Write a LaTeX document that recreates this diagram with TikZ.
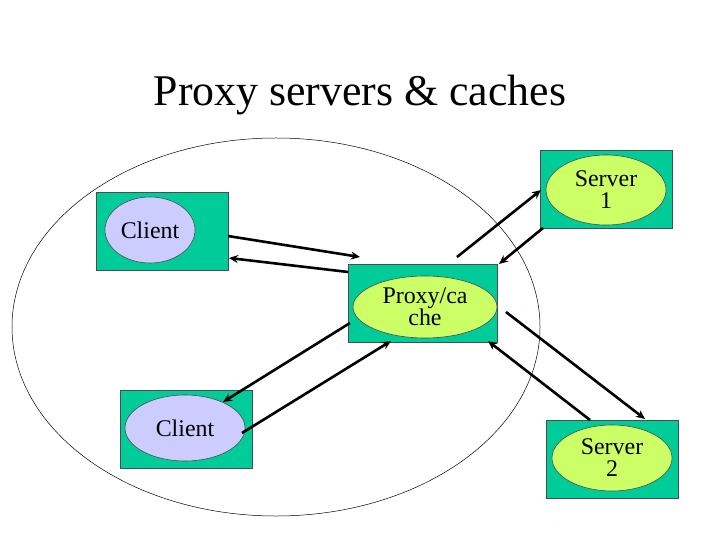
\documentclass[tikz,border=0pt]{standalone}
\usepackage{fontspec}
\setmainfont{Liberation Serif}
\usetikzlibrary{arrows.meta,shapes.geometric}
\definecolor{boxg}{HTML}{00CC99}
\definecolor{cli}{HTML}{CCCCFF}
\definecolor{srv}{HTML}{CCFF66}
\begin{document}
\begin{tikzpicture}[x=1bp,y=-1bp,
  box/.style={draw=black!70,fill=boxg,line width=0.8bp},
  ell/.style={ellipse,draw=black!70,line width=0.6bp,inner sep=0pt,font=\fontsize{24}{25}\selectfont,align=center},
  arr/.style={line width=2.6bp,-{Stealth[length=9bp,width=8bp]}}]
\useasboundingbox (0,0) rectangle (720,540);
\node[font=\fontsize{44}{46}\selectfont] (title) at (360,95) {Proxy servers \& caches};
\node[ellipse,draw,line width=0.5bp,minimum width=528bp,minimum height=378bp] (cloud) at (276,327) {};
% boxes
\draw[box] (96,192) rectangle (228,270);
\draw[box] (540,150) rectangle (672,228);
\draw[box] (348,264) rectangle (497,342);
\draw[box] (120,390) rectangle (252,468);
\draw[box] (546,420) rectangle (678,498);
\node[ell,fill=cli,minimum width=90bp,minimum height=66bp] (c1) at (150,230) {Client};
\node[ell,fill=srv,minimum width=120bp,minimum height=70bp] (s1) at (606,190) {Server\\[-3bp]1};
\node[ell,fill=srv,minimum width=144bp,minimum height=62bp] (p) at (425,307) {Proxy/ca\\[-3bp]che};
\node[ell,fill=cli,minimum width=120bp,minimum height=66bp] (c2) at (185,428) {Client};
\node[ell,fill=srv,minimum width=120bp,minimum height=66bp] (s2) at (612,458) {Server\\[-3bp]2};
% connector end points
\coordinate (a1) at (228,236); \coordinate (a2) at (360,257);
\coordinate (b1) at (348,272); \coordinate (b2) at (229,258);
\coordinate (d1) at (457,257); \coordinate (d2) at (541,190);
\coordinate (e1) at (543,228); \coordinate (e2) at (499,264);
\coordinate (f1) at (350,323); \coordinate (f2) at (223,402);
\coordinate (g1) at (242,433); \coordinate (g2) at (391,341);
\coordinate (h1) at (506,312); \coordinate (h2) at (645,419);
\coordinate (k1) at (590,420); \coordinate (k2) at (488,341);
\draw[arr] (a1) -- (a2);
\draw[arr] (b1) -- (b2);
\draw[arr] (d1) -- (d2);
\draw[arr] (e1) -- (e2);
\draw[arr] (f1) -- (f2);
\draw[arr] (g1) -- (g2);
\draw[arr] (h1) -- (h2);
\draw[arr] (k1) -- (k2);
\end{tikzpicture}
\end{document}
